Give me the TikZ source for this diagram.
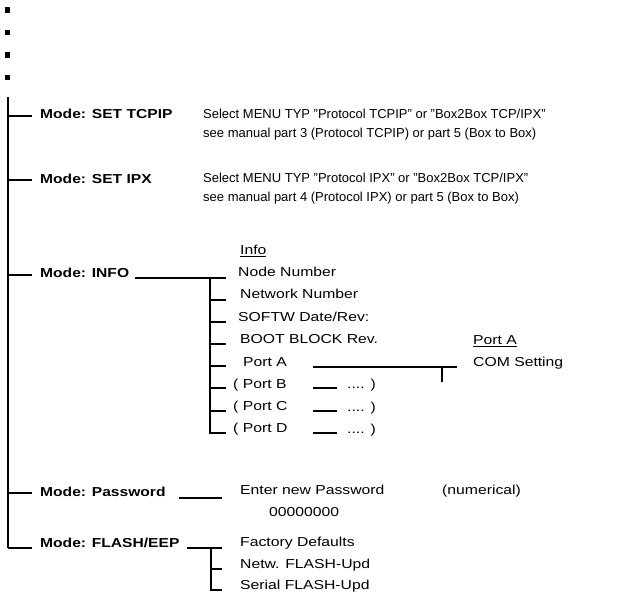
\documentclass[tikz,border=0pt]{standalone}
\usepackage{fontspec}
\setmainfont{Liberation Sans}
\newfontfamily\widefont[FakeStretch=1.21]{Liberation Sans}
\newfontfamily\modefont[FakeStretch=1.2]{Liberation Sans Bold}
\begin{document}
\begin{tikzpicture}[x=1pt,y=-1pt,
  txt/.style={anchor=base west,inner sep=0pt,font=\fontsize{13}{15}\widefont},
  desc/.style={anchor=base west,inner sep=0pt,font=\fontsize{13}{15}\selectfont},
  mode/.style={anchor=base west,inner sep=0pt,font=\fontsize{13}{15}\modefont},
  ln/.style={line width=1.7pt},
  bul/.style={fill=black,minimum size=5.5pt,inner sep=0pt}]
\useasboundingbox (0,0) rectangle (628,594);
% bullets
\node[bul] (b1) at (7.5,10) {};
\node[bul] (b2) at (7.5,32.5) {};
\node[bul] (b3) at (7.5,55) {};
\node[bul] (b4) at (7.5,77.5) {};
% main trunk
\coordinate (top) at (8,97);
\coordinate (t1) at (8,116);
\coordinate (t2) at (8,180);
\coordinate (t3) at (8,275);
\coordinate (t4) at (8,493);
\coordinate (t5) at (8,548);
\draw[ln] (top) -- (t5);
% modes
\node[mode] (m1) at (40,118.5) {Mode: SET TCPIP};
\node[mode] (m2) at (40,183) {Mode: SET IPX};
\node[mode] (m3) at (40,277) {Mode: INFO};
\node[mode] (m4) at (40,496) {Mode: Password};
\node[mode] (m5) at (40,547) {Mode: FLASH/EEP};
\draw[ln] (t1) -- ++(24,0);
\draw[ln] (t2) -- ++(24,0);
\draw[ln] (t3) -- ++(24,0);
\draw[ln] (t4) -- ++(24,0);
\draw[ln] (t5) -- ++(24,0);
% descriptions
\node[desc] (d1a) at (203,118) {Select MENU TYP "Protocol TCPIP" or "Box2Box TCP/IPX"};
\node[desc] (d1b) at (203,137) {see manual part 3 (Protocol TCPIP) or part 5 (Box to Box)};
\node[desc] (d2a) at (203,182.5) {Select MENU TYP "Protocol IPX" or "Box2Box TCP/IPX"};
\node[desc] (d2b) at (203,201.5) {see manual part 4 (Protocol IPX) or part 5 (Box to Box)};
% info
\node[txt] (info) at (240,254.5) {\underline{Info}};
\node[txt] (i1) at (238,276.6) {Node Number};
\node[txt] (i2) at (240,298.6) {Network Number};
\node[txt] (i3) at (238,321.6) {SOFTW Date/Rev:};
\node[txt] (i4) at (240,343.6) {BOOT BLOCK Rev.};
\node[txt] (i5) at (243,366.6) {Port A};
\node[txt] (i6) at (233,388.6) {( Port B};
\node[txt] (i7) at (233,410.6) {( Port C};
\node[txt] (i8) at (233,432.6) {( Port D};
\coordinate (ia) at (135,278);
\coordinate (ib) at (210,278);
\draw[ln] (ia) -- (226,278);
\draw[ln] (ib) -- (210,433);
\foreach \y in {300,322,344,366,388,411,433}
  \draw[ln] (209,\y) -- (226,\y);
% port A
\node[txt] (pa) at (473,344.6) {\underline{Port A}};
\node[txt] (com) at (473,366.6) {COM Setting};
\draw[ln] (313,367) -- (457,367);
\draw[ln] (442,367) -- (442,382);
% ports B-D
\foreach \y/\n in {388/b,411/c,433/d}{
  \draw[ln] (313,\y) -- (337,\y);
  \node[txt] (r\n) at (347,\y) {.... )};
}
% password
\node[txt] (pw) at (240,494.6) {Enter new Password};
\node[txt] (num) at (442,494.6) {(numerical)};
\node[txt] (zero) at (269,516.6) {00000000};
\draw[ln] (179,498) -- (222,498);
% flash
\node[txt] (f1) at (240,546) {Factory Defaults};
\node[txt] (f2) at (240,568) {Netw. FLASH-Upd};
\node[txt] (f3) at (240,589.5) {Serial FLASH-Upd};
\draw[ln] (187,548) -- (222,548);
\draw[ln] (211,548) -- (211,590);
\draw[ln] (210,569) -- (222,569);
\draw[ln] (210,590) -- (222,590);
\end{tikzpicture}
\end{document}
